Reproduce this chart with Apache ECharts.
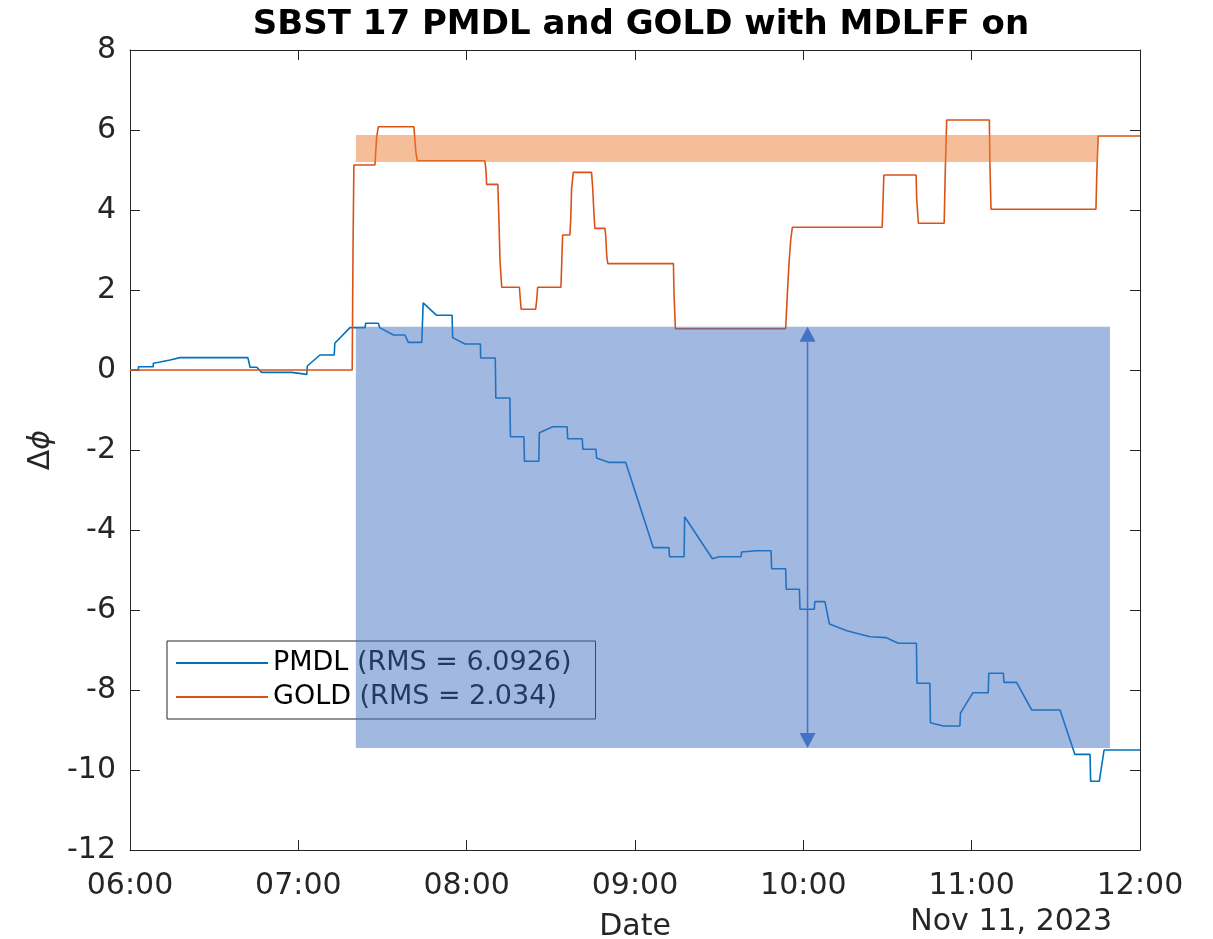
<!DOCTYPE html>
<html>
<head>
<meta charset="utf-8">
<title>SBST 17 PMDL and GOLD with MDLFF on</title>
<script src="https://cdn.jsdelivr.net/npm/echarts@6/dist/echarts.min.js"></script>
<style>
  html, body { margin: 0; padding: 0; background: #fff; }
  #chart { width: 1213px; height: 939px; }
</style>
</head>
<body>
<div id="chart"></div>
<script>
// Time axis is expressed in minutes after 06:00 on Nov 11, 2023.
const tickLabels = ['06:00', '07:00', '08:00', '09:00', '10:00', '11:00', '12:00'];
const dateLabel = 'Nov 11, 2023';

// PMDL phase difference
const pmdlT = [0, 3, 3, 8.3, 8.3, 10.7, 14.3, 17.8, 42, 42.8, 45.2, 46.9, 57.6, 57.8, 63, 63.2, 67.7, 72.8, 73, 78.4,
  83.8, 84, 88.5, 89, 93.9, 98, 99.2, 104, 104.5, 109.2, 114.8, 115, 119.4, 124.9, 125, 130.2, 130.4, 135.4, 135.6,
  140.4, 140.6, 145.7, 145.9, 150.7, 155.8, 156, 161.2, 161.4, 166.1, 166.3, 170.8, 176.7, 186.5, 192.1, 192.3,
  197.5, 197.7, 207.6, 210, 217.8, 218, 223.1, 228.5, 228.7, 233.7, 233.9, 238.6, 238.8, 243.9, 244.1, 247.7,
  249.3, 255.5, 263.8, 269.4, 273.8, 280.3, 280.5, 285.1, 285.3, 289.9, 295.8, 296, 300.4, 305.9, 306.1, 311.3,
  311.5, 316, 321.4, 331.5, 336.8, 342.2, 342.4, 345.5, 347.2, 360];
const pmdlV = [0, 0, 0.08, 0.08, 0.17, 0.2, 0.25, 0.31, 0.31, 0.07, 0.07, -0.06, -0.06, -0.11, -0.11, 0.1, 0.375, 0.375, 0.67, 1.06,
  1.06, 1.17, 1.17, 1.06, 0.875, 0.875, 0.69, 0.69, 1.68, 1.37, 1.37, 0.81, 0.65, 0.65, 0.3, 0.3, -0.7, -0.7, -1.67,
  -1.67, -2.28, -2.28, -1.57, -1.42, -1.42, -1.72, -1.72, -1.98, -1.98, -2.2, -2.31, -2.31, -4.44, -4.44, -4.67,
  -4.67, -3.67, -4.72, -4.67, -4.67, -4.55, -4.52, -4.52, -4.97, -4.97, -5.48, -5.48, -5.98, -5.98, -5.79, -5.79,
  -6.35, -6.52, -6.67, -6.69, -6.83, -6.83, -7.83, -7.83, -8.82, -8.9, -8.9, -8.58, -8.07, -8.07, -7.58, -7.58,
  -7.81, -7.81, -8.5, -8.5, -9.61, -9.61, -10.28, -10.28, -9.5, -9.5];

// GOLD phase difference
const goldT = [0, 79.2, 79.5, 79.8, 87.3, 87.9, 88.5, 101.2, 101.9, 102.4, 126.5, 126.9, 127.1, 131.1, 131.4, 131.9,
  132.5, 138.8, 139.1, 139.4, 144.6, 145, 145.3, 153.6, 153.9, 154.2, 156.8, 157.1, 157.4, 158, 164.5, 164.9,
  165.4, 165.7, 169.3, 169.6, 169.9, 170.3, 193.7, 193.9, 194.4, 233.7, 234, 234.4, 234.9, 235.5, 236.1, 268.1,
  268.4, 268.7, 280.2, 280.4, 281, 290.2, 290.6, 291.1, 306.3, 306.5, 306.9, 344.3, 344.6, 345.1, 360];
const goldV = [0, 0, 3.1, 5.125, 5.125, 5.81, 6.08, 6.08, 5.44, 5.23, 5.23, 4.98, 4.64, 4.64, 4.0, 2.71,
  2.07, 2.07, 1.78, 1.52, 1.52, 1.78, 2.07, 2.07, 2.71, 3.375, 3.375, 3.79, 4.54, 4.94, 4.94, 4.58,
  3.875, 3.54, 3.54, 3.33, 2.875, 2.66, 2.66, 1.92, 1.03, 1.03, 1.46, 2.04, 2.67, 3.25, 3.57, 3.57,
  4.21, 4.875, 4.875, 4.29, 3.67, 3.67, 5.0, 6.25, 6.25, 5.17, 4.02, 4.02, 4.92, 5.85, 5.85];

// Shaded spans: [start, end, low, high]
const goldBand = [80.5, 345, 5.2, 5.875];
const pmdlBox = [80.5, 349.3, -9.45, 1.08];
// Peak-to-peak arrow: [time, low, high]
const pmdlArrow = [241.5, -9.45, 1.08];

const legendNames = ['PMDL (RMS = 6.0926)', 'GOLD (RMS = 2.034)'];
const yTicks = { min: -12, max: 8, step: 2 };

const FONT = 'DejaVu Sans';
const AXIS = '#262626';
const BLUE = '#0072BD';
const ORANGE = '#D95319';
const LABEL_SIZE = 30;

const zip = (t, v) => t.map((x, i) => [x, v[i]]);

function rectItem(color) {
  return function (params, api) {
    const p0 = api.coord([api.value(0), api.value(3)]);
    const p1 = api.coord([api.value(1), api.value(2)]);
    return {
      type: 'rect',
      shape: { x: p0[0], y: p0[1], width: p1[0] - p0[0], height: p1[1] - p0[1] },
      style: { fill: color }
    };
  };
}

function arrowItem(params, api) {
  const top = api.coord([api.value(0), api.value(2)]);
  const bot = api.coord([api.value(0), api.value(1)]);
  const hl = 15, hw = 8;
  const color = '#4472C4';
  return {
    type: 'group',
    children: [
      { type: 'line', shape: { x1: top[0], y1: top[1] + hl, x2: bot[0], y2: bot[1] - hl },
        style: { stroke: color, lineWidth: 1.5 } },
      { type: 'polygon', shape: { points: [[top[0], top[1]], [top[0] - hw, top[1] + hl], [top[0] + hw, top[1] + hl]] },
        style: { fill: color } },
      { type: 'polygon', shape: { points: [[bot[0], bot[1]], [bot[0] - hw, bot[1] - hl], [bot[0] + hw, bot[1] - hl]] },
        style: { fill: color } }
    ]
  };
}

const chart = echarts.init(document.getElementById('chart'), null, { renderer: 'canvas' });

const xCommon = {
  type: 'value', min: 0, max: 360, interval: 60,
  axisLine: { show: true, onZero: false, lineStyle: { color: AXIS, width: 1 } },
  axisTick: { show: true, inside: true, length: 10, lineStyle: { color: AXIS } },
  splitLine: { show: false }
};
const yCommon = {
  type: 'value', min: yTicks.min, max: yTicks.max, interval: yTicks.step,
  axisLine: { show: true, onZero: false, lineStyle: { color: AXIS, width: 1 } },
  axisTick: { show: true, inside: true, length: 10, lineStyle: { color: AXIS } },
  splitLine: { show: false }
};

chart.setOption({
  animation: false,
  backgroundColor: '#fff',
  title: {
    text: 'SBST 17 PMDL and GOLD with MDLFF on',
    left: 636, top: 3, textAlign: 'center',
    textStyle: { fontFamily: FONT, fontSize: 34, fontWeight: 'bold', color: '#000' }
  },
  grid: { left: 130, right: 73, top: 50, bottom: 89, containLabel: false, outerBoundsMode: 'none' },
  xAxis: [
    Object.assign({}, xCommon, {
      position: 'bottom',
      axisLabel: {
        fontFamily: FONT, fontSize: LABEL_SIZE, color: AXIS, margin: 21,
        formatter: v => tickLabels[Math.round(v / 60)]
      },
      name: 'Date', nameLocation: 'middle', nameGap: 62,
      nameTextStyle: { fontFamily: FONT, fontSize: LABEL_SIZE, color: AXIS }
    }),
    Object.assign({}, xCommon, { position: 'top', axisLabel: { show: false } })
  ],
  yAxis: [
    Object.assign({}, yCommon, {
      position: 'left',
      axisLabel: { fontFamily: FONT, fontSize: LABEL_SIZE, color: AXIS, margin: 14 },
      name: '\u0394{i|\u03D5}', nameLocation: 'middle', nameGap: 74, nameRotate: 90,
      nameTextStyle: {
        fontFamily: FONT, fontSize: LABEL_SIZE, color: AXIS,
        rich: { i: { fontFamily: FONT, fontSize: LABEL_SIZE, fontStyle: 'italic', color: AXIS } }
      }
    }),
    Object.assign({}, yCommon, { position: 'right', axisLabel: { show: false } })
  ],
  legend: {
    orient: 'vertical', left: 167, top: 641, z: 3,
    data: legendNames,
    icon: 'rect', itemWidth: 92, itemHeight: 2, itemGap: 2, itemTextGap: 9,
    padding: [6, 24, 6, 9],
    backgroundColor: '#fff', borderColor: AXIS, borderWidth: 1,
    textStyle: { fontFamily: FONT, fontSize: 27, color: '#000', lineHeight: 32 }
  },
  graphic: [
    {
      type: 'text', right: 1213 - 1112, top: 907, z: 5,
      style: { text: dateLabel, font: LABEL_SIZE + 'px "DejaVu Sans"', fill: AXIS }
    }
  ],
  series: [
    {
      name: legendNames[0], type: 'line', data: zip(pmdlT, pmdlV),
      showSymbol: false, symbol: 'none', z: 2,
      lineStyle: { color: BLUE, width: 1.6 }, itemStyle: { color: BLUE }
    },
    {
      name: legendNames[1], type: 'line', data: zip(goldT, goldV),
      showSymbol: false, symbol: 'none', z: 2,
      lineStyle: { color: ORANGE, width: 1.6 }, itemStyle: { color: ORANGE }
    },
    {
      type: 'custom', name: 'goldBand', z: 3, silent: true,
      renderItem: rectItem('rgba(237,125,49,0.5)'),
      encode: { x: [0, 1], y: [2, 3] },
      data: [goldBand]
    },
    {
      type: 'custom', name: 'pmdlBox', z: 10, silent: true,
      renderItem: rectItem('rgba(68,114,196,0.5)'),
      encode: { x: [0, 1], y: [2, 3] },
      data: [pmdlBox]
    },
    {
      type: 'custom', name: 'pmdlArrow', z: 11, silent: true,
      renderItem: arrowItem,
      encode: { x: 0, y: [1, 2] },
      data: [pmdlArrow]
    }
  ]
});
</script>
</body>
</html>
